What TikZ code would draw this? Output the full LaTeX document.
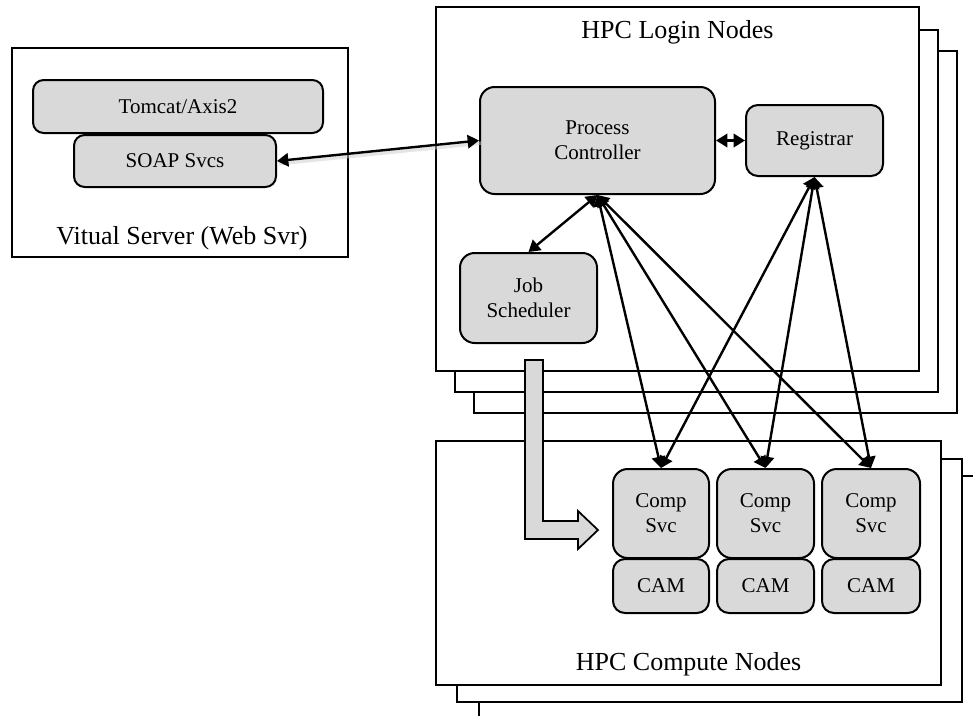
\documentclass[tikz,border=0pt]{standalone}
\usepackage{fontspec}
\setmainfont{Liberation Serif}
\usetikzlibrary{arrows.meta}
\definecolor{boxgray}{RGB}{217,217,217}
\begin{document}
\begin{tikzpicture}[x=0.75pt,y=-0.75pt,
  sz/.style 2 args={minimum width=#1*0.75pt, minimum height=#2*0.75pt, inner sep=0pt},
  frame/.style={draw=black, fill=white, line width=1.5pt},
  svc/.style={draw=black, fill=boxgray, line width=1.5pt, rounded corners=9pt,
    align=center, font=\fontsize{15.75}{18.9}\selectfont},
  biglabel/.style={font=\fontsize{19.5}{23.4}\selectfont, inner sep=0pt},
  conn/.style={line width=1.8pt, {Triangle[length=8.5pt,width=10pt]}-{Triangle[length=8.5pt,width=10pt]}},
  bigarrow/.style={draw=black, fill=boxgray, line width=1.3pt, line join=miter}]
\useasboundingbox (0,0) rectangle (973,715);

% Web server
\node[frame, sz={336}{209}] (vs) at (180,152.5) {};
\node[svc, sz={290}{53}, rounded corners=8pt] (tomcat) at (178,106.5) {Tomcat/Axis2};
\node[svc, sz={202}{52}, rounded corners=8pt] (soap) at (175,161) {SOAP Svcs};
\node[biglabel] (vslbl) at (182,238) {Vitual Server (Web Svr)};

% Login nodes (stacked)
\node[frame, sz={483}{362}] (login3) at (715.5,232) {};
\node[frame, sz={483}{362}] (login2) at (696.5,211) {};
\node[frame, sz={483}{364}] (login1) at (677.5,189) {};
\node[biglabel] (loginlbl) at (677.5,32) {HPC Login Nodes};
\node[svc, sz={235}{107}, rounded corners=11pt] (pc) at (597.5,140.5) {Process\\Controller};
\node[svc, sz={137}{71}] (reg) at (814.5,140.5) {Registrar};
\node[svc, sz={137}{90}, rounded corners=11pt] (job) at (528.5,298) {Job\\Scheduler};

% Compute nodes (stacked)
\begin{scope}
  \clip (0,0) rectangle (973,715);
  \node[frame, sz={511}{254}] (compute3) at (734.5,603) {};
\end{scope}
\node[frame, sz={505}{243}] (compute2) at (709.5,580.5) {};
\node[frame, sz={505}{244}] (compute1) at (688.5,563) {};
\node[biglabel] (computelbl) at (688.5,664) {HPC Compute Nodes};

\node[svc, sz={96}{89}, rounded corners=11pt] (comp1) at (661,513.5) {Comp\\Svc};
\node[svc, sz={96}{54}] (cam1) at (661,586) {CAM};
\node[svc, sz={97}{89}, rounded corners=11pt] (comp2) at (765.5,513.5) {Comp\\Svc};
\node[svc, sz={97}{54}] (cam2) at (765.5,586) {CAM};
\node[svc, sz={98}{89}, rounded corners=11pt] (comp3) at (871,513.5) {Comp\\Svc};
\node[svc, sz={98}{54}] (cam3) at (871,586) {CAM};

% Connectors
\draw[line width=2.6pt, black!20, opacity=0.5] ([xshift=1.5pt,yshift=-2pt]soap.east) -- ([xshift=1.5pt,yshift=-2pt]pc.west);
\draw[conn] (soap.east) -- (pc.west);
\draw[conn] (pc.east) -- (reg.west);
\draw[conn] (pc.south) -- (job.north);
\draw[conn] (pc.south) -- (comp1.north);
\draw[conn] (pc.south) -- (comp2.north);
\draw[conn] (pc.south) -- (comp3.north);
\draw[conn] (reg.south) -- (comp1.north);
\draw[conn] (reg.south) -- (comp2.north);
\draw[conn] (reg.south) -- (comp3.north);

% Job dispatch arrow
\draw[bigarrow] (525,360) -- (543,360) -- (543,521) -- (578,521) -- (578,511)
  -- (598,530) -- (578,549) -- (578,539) -- (525,539) -- cycle;
\end{tikzpicture}
\end{document}
